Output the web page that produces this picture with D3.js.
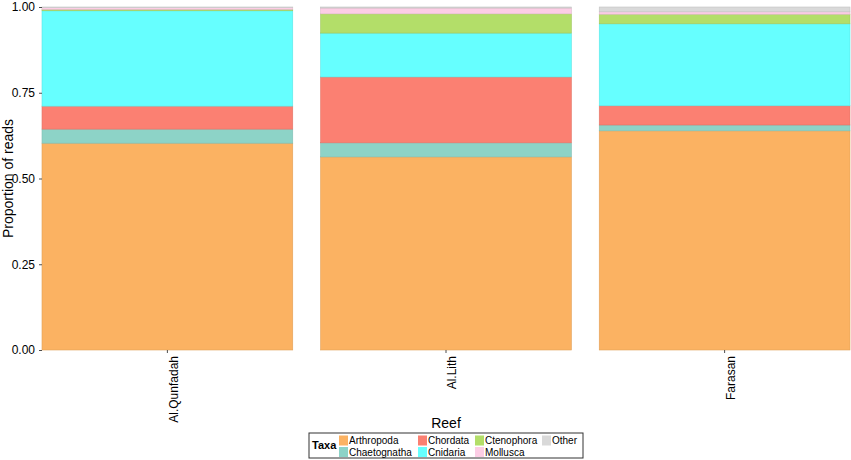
<!DOCTYPE html>
<html>
<head>
<meta charset="utf-8">
<script src="https://cdn.jsdelivr.net/npm/d3@7"></script>
<style>
  body { margin: 0; background: #fff; }
  text { font-family: "Liberation Sans", Arial, sans-serif; fill: #000; }
</style>
</head>
<body>
<div id="chart"></div>
<script>
// reefs on the x axis, taxa stacked bottom to top
const reefs = ['Al.Qunfadah', 'Al.Lith', 'Farasan'];
const taxa = ['Arthropoda', 'Chaetognatha', 'Chordata', 'Cnidaria', 'Ctenophora', 'Mollusca', 'Other'];

// proportion of reads per taxon, in reef order
const arthropoda   = [0.603, 0.563, 0.639];
const chaetognatha = [0.041, 0.041, 0.017];
const chordata     = [0.067, 0.192, 0.056];
const cnidaria     = [0.278, 0.128, 0.239];
const ctenophora   = [0.004, 0.056, 0.028];
const mollusca     = [0.005, 0.017, 0.007];
const other        = [0.002, 0.003, 0.014];

const yTicks = [0, 0.25, 0.5, 0.75, 1];
const taxaColors = ['#fbb262', '#8dd3c7', '#fb8072', '#66ffff', '#b3de69', '#fccde5', '#d9d9d9'];

const series = [arthropoda, chaetognatha, chordata, cnidaria, ctenophora, mollusca, other];
const rows = reefs.map((r, i) => {
  const row = { reef: r };
  taxa.forEach((t, j) => { row[t] = series[j][i]; });
  return row;
});

const W = 851, H = 460;
const margin = { top: 7, right: 1, bottom: 110, left: 42 };
const width = W - margin.left - margin.right;
const height = H - margin.top - margin.bottom;

const svg = d3.select('#chart').append('svg')
  .attr('width', W).attr('height', H);
const g = svg.append('g')
  .attr('transform', `translate(${margin.left},${margin.top})`);

const x = d3.scaleBand().domain(reefs).range([0, width])
  .paddingInner(0.1).paddingOuter(0);
const y = d3.scaleLinear().domain([0, 1]).range([height, 0]);
const color = d3.scaleOrdinal().domain(taxa).range(taxaColors);

const stacked = d3.stack().keys(taxa)(rows);

// bars
g.selectAll('g.layer')
  .data(stacked)
  .enter().append('g')
    .attr('class', 'layer')
    .attr('fill', d => color(d.key))
    .attr('stroke', d => d3.color(color(d.key)).darker(0.3))
    .attr('stroke-width', 0.6)
  .selectAll('rect')
  .data(d => d)
  .enter().append('rect')
    .attr('x', d => x(d.data.reef))
    .attr('width', x.bandwidth())
    .attr('y', d => y(d[1]))
    .attr('height', d => y(d[0]) - y(d[1]));

// y axis
const yAxis = g.append('g')
  .call(d3.axisLeft(y).tickValues(yTicks).tickFormat(d3.format('.2f')).tickSize(3).tickSizeOuter(0));
yAxis.select('.domain').remove();
yAxis.selectAll('line').attr('stroke', '#4d4d4d');
yAxis.selectAll('text').attr('font-size', 12).attr('fill', '#222').attr('dx', '-1');

// x axis
const xAxis = g.append('g')
  .attr('transform', `translate(0,${height})`)
  .call(d3.axisBottom(x).tickSize(3).tickSizeOuter(0));
xAxis.select('.domain').remove();
xAxis.selectAll('line').attr('stroke', '#4d4d4d');
xAxis.selectAll('text')
  .attr('font-size', 12)
  .attr('fill', '#222')
  .attr('transform', 'rotate(-90)')
  .attr('text-anchor', 'end')
  .attr('x', -6)
  .attr('y', 0)
  .attr('dy', '0.85em');

// axis titles
svg.append('text')
  .attr('transform', `translate(13,${margin.top + height / 2}) rotate(-90)`)
  .attr('text-anchor', 'middle')
  .attr('font-size', 14)
  .text('Proportion of reads');

svg.append('text')
  .attr('x', 446).attr('y', 428)
  .attr('text-anchor', 'middle')
  .attr('font-size', 14)
  .text('Reef');

// legend
const leg = svg.append('g').attr('transform', 'translate(309,433)');
leg.append('rect')
  .attr('width', 274).attr('height', 25)
  .attr('fill', '#fff').attr('stroke', '#333').attr('stroke-width', 1);
leg.append('text')
  .attr('x', 3).attr('y', 16)
  .attr('font-size', 11).attr('font-weight', 'bold')
  .text('Taxa');

const colX = [30, 109, 166, 233];
taxa.forEach((t, i) => {
  const col = Math.floor(i / 2), row = i % 2;
  const kg = leg.append('g')
    .attr('transform', `translate(${colX[col]},${1.5 + row * 11.5})`);
  kg.append('rect')
    .attr('y', 1)
    .attr('width', 9).attr('height', 10)
    .attr('fill', color(t));
  kg.append('text')
    .attr('x', 10).attr('y', 9.5)
    .attr('font-size', 10)
    .text(t);
});
</script>
</body>
</html>
